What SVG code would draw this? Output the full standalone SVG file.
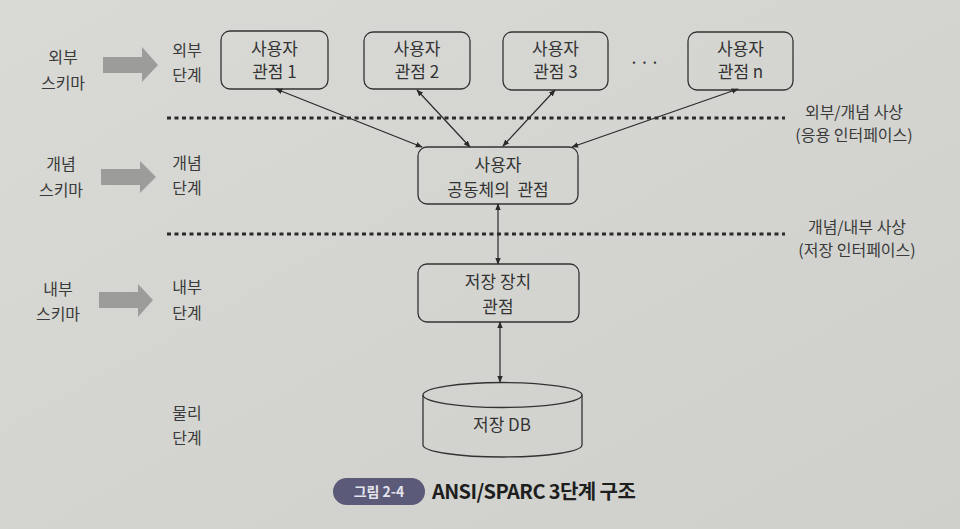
<svg xmlns="http://www.w3.org/2000/svg" width="960" height="529" viewBox="0 0 960 529">
<defs>
<marker id="ah" viewBox="0 0 10 10" refX="9" refY="5" markerWidth="7" markerHeight="7" orient="auto-start-reverse" markerUnits="userSpaceOnUse">
<path d="M0,1 L10,5 L0,9 Z" fill="#2a2a2a"/>
</marker>
<linearGradient id="bg" x1="0" y1="0" x2="1" y2="1">
<stop offset="0" stop-color="#d9dad6"/>
<stop offset="1" stop-color="#cfd0cc"/>
</linearGradient>
<style>
text{font-family:"Noto Sans CJK KR","Noto Sans",sans-serif;fill:#333;}
.t{font-size:17px;text-anchor:middle;}
.lbl{font-size:16px;text-anchor:middle;fill:#3a3a3a;}
.box{fill:none;stroke:#333;stroke-width:1.3;}
.conn{stroke:#2a2a2a;stroke-width:1.2;fill:none;marker-start:url(#ah);marker-end:url(#ah);}
.dot{stroke:#2a2a2a;stroke-width:3;stroke-dasharray:4 3.5;fill:none;}
.garrow{fill:#9c9d9a;}
</style>
</defs>
<rect width="960" height="529" fill="url(#bg)"/>

<g id="left-labels">
<g id="ext-schema">
<text class="lbl" x="63" y="63">외부</text>
<text class="lbl" x="63" y="89">스키마</text>
<path class="garrow" d="M103,57 H142 V47 L158,65 L142,82 V73 H103 Z"/>
</g>
<g id="con-schema">
<text class="lbl" x="61" y="170">개념</text>
<text class="lbl" x="61" y="196">스키마</text>
<path class="garrow" d="M101,169 H140 V161 L156,177 L140,193 V185 H101 Z"/>
</g>
<g id="int-schema">
<text class="lbl" x="58" y="295">내부</text>
<text class="lbl" x="58" y="320">스키마</text>
<path class="garrow" d="M99,292 H138 V284 L153,300 L138,317 V308 H99 Z"/>
</g>
<g id="ext-level"><text class="lbl" x="187" y="56">외부</text><text class="lbl" x="187" y="81">단계</text></g>
<g id="con-level"><text class="lbl" x="187" y="169">개념</text><text class="lbl" x="187" y="194">단계</text></g>
<g id="int-level"><text class="lbl" x="187" y="293">내부</text><text class="lbl" x="187" y="319">단계</text></g>
<g id="phy-level"><text class="lbl" x="187" y="419">물리</text><text class="lbl" x="187" y="444">단계</text></g>
</g>

<g id="separators">
<line class="dot" x1="167" y1="118" x2="785" y2="118"/>
<line class="dot" x1="167" y1="234" x2="785" y2="234"/>
<text class="lbl" x="854" y="118">외부/개념 사상</text>
<text class="lbl" x="854" y="141">(응용 인터페이스)</text>
<text class="lbl" x="857" y="233">개념/내부 사상</text>
<text class="lbl" x="857" y="256">(저장 인터페이스)</text>
</g>

<g id="view1">
<rect class="box" x="221" y="31" width="107" height="58" rx="9"/>
<text class="t" x="274.5" y="55">사용자</text>
<text class="t" x="274.5" y="78">관점 1</text>
</g>
<g id="view2">
<rect class="box" x="364" y="32" width="106" height="57" rx="9"/>
<text class="t" x="417" y="55">사용자</text>
<text class="t" x="417" y="78">관점 2</text>
</g>
<g id="view3">
<rect class="box" x="503" y="32" width="105" height="58" rx="9"/>
<text class="t" x="555.5" y="55">사용자</text>
<text class="t" x="555.5" y="78">관점 3</text>
</g>
<g id="ellipsis"><text class="t" x="645" y="69" style="letter-spacing:1px">···</text></g>
<g id="viewn">
<rect class="box" x="688" y="32" width="105" height="58" rx="9"/>
<text class="t" x="740.5" y="55">사용자</text>
<text class="t" x="740.5" y="78">관점 n</text>
</g>
<g id="community">
<rect class="box" x="418" y="147" width="160" height="57" rx="9"/>
<text class="t" x="498" y="171">사용자</text>
<text class="t" x="498" y="196">공동체의&#160; 관점</text>
</g>
<g id="storage">
<rect class="box" x="418" y="264" width="161" height="58" rx="9"/>
<text class="t" x="498" y="288">저장 장치</text>
<text class="t" x="498" y="313">관점</text>
</g>
<g id="db">
<path class="box" d="M423,395 V445 A79.5,12 0 0 0 582,445 V395"/>
<ellipse class="box" cx="502.5" cy="395" rx="79.5" ry="12.5"/>
<text class="t" x="502" y="431">저장 DB</text>
</g>

<g id="connectors">
<line class="conn" x1="276" y1="89" x2="422" y2="147"/>
<line class="conn" x1="417" y1="90" x2="470" y2="147"/>
<line class="conn" x1="555" y1="90" x2="503" y2="146"/>
<line class="conn" x1="738" y1="89" x2="572" y2="147"/>
<line class="conn" x1="498" y1="204" x2="498" y2="264"/>
<line class="conn" x1="500" y1="322" x2="500" y2="382"/>
</g>

<g id="caption">
<rect x="333" y="478" width="92" height="27" rx="13.5" fill="#5b5a78"/>
<text x="379" y="497" font-size="14" font-weight="bold" text-anchor="middle" style="fill:#e4e4ec">그림 2-4</text>
<text x="432" y="499" font-size="20" font-weight="bold" style="fill:#1e1e1e;letter-spacing:-0.6px">ANSI/SPARC 3단계 구조</text>
</g>
</svg>
